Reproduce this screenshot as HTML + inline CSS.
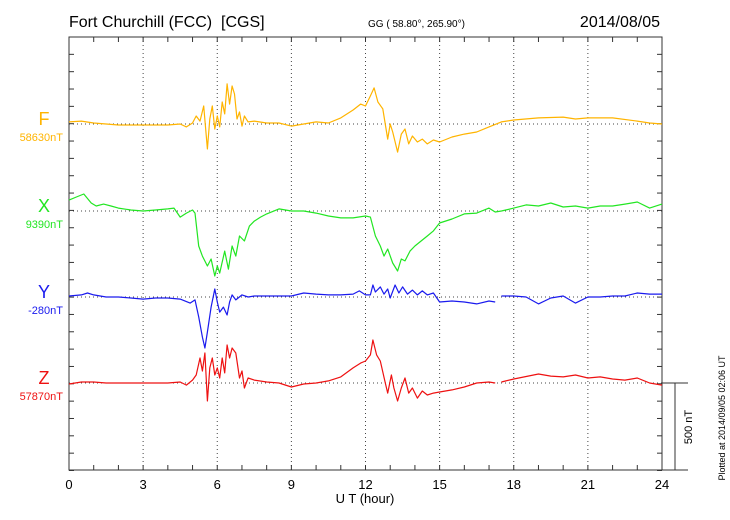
<!DOCTYPE html>
<html><head><meta charset="utf-8"><style>
body{margin:0;background:#fff;}
svg{display:block;font-family:"Liberation Sans",Arial,sans-serif;}
</style></head><body>
<svg id="chart" width="730" height="520" viewBox="0 0 730 520" xmlns="http://www.w3.org/2000/svg">
<text x="69" y="27" font-size="16">Fort Churchill (FCC) &#160;[CGS]</text>
<text x="368" y="27" font-size="10">GG ( 58.80°, 265.90°)</text>
<text x="660" y="27" font-size="16" text-anchor="end">2014/08/05</text>
<text x="365" y="503" font-size="13" text-anchor="middle">U T (hour)</text>
<text transform="translate(725,418) rotate(-90)" font-size="9" text-anchor="middle">Plotted at 2014/09/05 02:06 UT</text>
<text transform="translate(692,427) rotate(-90)" font-size="11" text-anchor="middle">500 nT</text>
<g id="grid"></g><g id="axes"></g><g id="series"></g>
</svg>
<script>
const xTickLabels = [0,3,6,9,12,15,18,21,24];
const seriesNames = ['F','X','Y','Z'];
const seriesBaselines = ['58630nT','9390nT','-280nT','57870nT'];
const seriesColors = ['#ffb400','#22e622','#1a1aee','#ee1111'];

const fTimes = [0,0.5,1,1.5,2,2.5,3,3.5,4,4.5,4.75,5,5.15,5.3,5.45,5.6,5.7,5.8,5.9,6.0,6.1,6.2,6.3,6.4,6.5,6.6,6.7,6.8,6.9,7.0,7.1,7.25,7.5,8,8.5,9,9.5,10,10.5,11,11.5,11.8,12,12.2,12.35,12.5,12.7,12.9,13.0,13.1,13.3,13.45,13.6,13.75,13.9,14.1,14.3,14.5,14.75,15,15.5,16,16.5,17,17.5,18,19,20,20.5,21,22,23,23.5,24];
const fValues = [12,17,6,0,-6,-6,-6,-6,-6,0,-17,6,46,17,104,-144,29,104,-29,46,-17,127,58,231,115,219,173,29,69,-12,46,12,17,6,6,-12,0,12,6,35,81,115,104,162,208,127,87,-87,0,-46,-162,-58,-29,-115,-69,-104,-87,-115,-92,-104,-75,-58,-46,-17,12,23,35,40,29,35,35,17,6,0];

const xTimes = [0,0.3,0.6,0.9,1.1,1.4,1.7,2,2.5,3,3.5,4,4.25,4.5,4.75,5.0,5.1,5.25,5.4,5.6,5.75,5.9,6.0,6.1,6.3,6.45,6.6,6.75,6.9,7.1,7.3,7.5,7.75,8,8.5,9,9.5,10,10.5,11,11.5,12,12.2,12.4,12.6,12.75,12.9,13.1,13.3,13.45,13.6,13.8,14.0,14.25,14.5,14.75,15,15.5,16,16.5,17,17.25,17.5,18,18.5,19,19.5,20,20.5,21,21.5,22,22.5,23,23.5,24];
const xValues = [63,81,98,46,29,40,29,17,6,0,6,12,17,-35,-12,6,-12,-202,-260,-317,-277,-375,-317,-358,-231,-335,-202,-260,-144,-173,-87,-58,-35,-17,12,0,0,-12,-29,-40,-40,-29,-35,-144,-202,-260,-219,-300,-346,-277,-288,-231,-202,-173,-144,-115,-69,-46,-17,-12,17,-6,0,17,35,29,46,23,29,17,29,29,40,52,17,40];

const yTimes = [0,0.5,0.75,1,1.5,2,2.5,3,3.5,4,4.5,4.9,5.1,5.25,5.4,5.5,5.6,5.75,5.9,6.0,6.1,6.25,6.4,6.5,6.6,6.75,7,7.25,7.5,8,8.5,9,9.5,10,10.5,11,11.5,11.75,12,12.2,12.3,12.4,12.6,12.75,12.9,13.0,13.2,13.35,13.5,13.7,13.9,14.1,14.3,14.5,14.75,15,15.5,16,16.5,17,17.25,17.35,17.5,18,18.5,19,19.5,20,20.5,21,21.5,22,22.5,23,23.5,24];
const yValues = [6,12,23,12,0,0,-6,-12,-6,-6,-12,-35,-17,-115,-231,-294,-202,-58,46,-29,-87,-58,-104,-29,12,-17,12,0,6,6,6,6,23,17,12,12,17,35,12,12,69,29,58,17,46,-6,69,23,58,17,40,12,35,12,23,-29,-23,-29,-40,-23,-29,null,6,6,0,-40,-6,6,-35,0,0,6,6,23,17,17];

const zTimes = [0,0.5,1,1.5,2,3,3.5,4,4.5,4.75,5,5.15,5.3,5.4,5.5,5.6,5.7,5.8,5.9,6.0,6.1,6.2,6.3,6.4,6.5,6.6,6.75,6.9,7.0,7.1,7.25,7.5,8,8.5,9,9.5,10,10.5,11,11.5,11.8,12,12.2,12.3,12.45,12.6,12.8,12.9,13.05,13.15,13.3,13.45,13.6,13.75,13.9,14.1,14.3,14.5,14.75,15,15.5,16,16.5,17,17.25,17.35,17.5,18,19,19.5,20,20.5,21,21.5,22,22.5,23,23.5,24];
const zValues = [-6,6,6,0,0,0,0,0,6,-12,17,46,144,69,173,-104,87,144,46,87,29,144,58,219,144,202,173,29,69,-29,29,17,6,0,-23,-6,0,12,35,87,115,127,162,248,162,127,0,-58,46,-29,-104,-29,29,-58,-29,-87,-46,-69,-58,-52,-40,-23,0,6,0,null,6,23,52,40,35,46,29,35,23,17,29,0,-12];

const L=69,R=662,T=37,B=470;
const baseY=[124,211,297,383];
const pxPerNT=86.7/500;
const xs=h=>L+(R-L)*h/24;
const NS='http://www.w3.org/2000/svg';
function mk(tag,attrs,parent){const e=document.createElementNS(NS,tag);for(const k in attrs)e.setAttribute(k,attrs[k]);parent.appendChild(e);return e;}
const grid=document.getElementById('grid'),axes=document.getElementById('axes'),ser=document.getElementById('series');

xTickLabels.forEach(h=>{
  if(h>0&&h<24){const g=mk('line',{x1:xs(h),x2:xs(h),y1:T,y2:B,stroke:'#444','stroke-width':1,'stroke-dasharray':'1,3'},grid);
  
  }
  const t=mk('text',{x:xs(h),y:489,'font-size':13,'text-anchor':'middle'},axes);t.textContent=h;
  
  
});
baseY.forEach(y=>{const g=mk('line',{x1:L,x2:R,y1:y,y2:y,stroke:'#444','stroke-width':1,'stroke-dasharray':'1,3'},grid);
  
  });
for(let h=0;h<=24;h++){
  mk('line',{x1:xs(h),x2:xs(h),y1:T,y2:T+5,stroke:'#333'},axes);
  mk('line',{x1:xs(h),x2:xs(h),y1:B,y2:B-5,stroke:'#333'},axes);
}
for(let y=T;y<=B+1;y+=86.7/5){
  mk('line',{x1:L,x2:L+5,y1:y,y2:y,stroke:'#333'},axes);
  mk('line',{x1:R,x2:R-5,y1:y,y2:y,stroke:'#333'},axes);
}
const frame=mk('rect',{x:L,y:T,width:R-L,height:B-T,fill:'none',stroke:'#333','stroke-width':1},axes);


mk('line',{x1:R,x2:688,y1:383,y2:383,stroke:'#333'},axes);
mk('line',{x1:R,x2:688,y1:B,y2:B,stroke:'#333'},axes);
const sb=mk('line',{x1:675,x2:675,y1:383,y2:B,stroke:'#333'},axes);



const allT=[fTimes,xTimes,yTimes,zTimes],allV=[fValues,xValues,yValues,zValues];
seriesNames.forEach((n,i)=>{
  const lab=mk('text',{x:44,y:baseY[i]+1,'font-size':18,'text-anchor':'middle',fill:seriesColors[i]},axes);lab.textContent=n;
  
  
  const bl=mk('text',{x:63,y:baseY[i]+17,'font-size':11,'text-anchor':'end',fill:seriesColors[i]},axes);bl.textContent=seriesBaselines[i];
  
  
  let d='',pen=false;
  allT[i].forEach((t,j)=>{const v=allV[i][j];if(v===null){pen=false;return;}
    d+=(pen?'L':'M')+xs(t).toFixed(1)+','+(baseY[i]-v*pxPerNT).toFixed(1);pen=true;});
  const p=mk('path',{d:d,fill:'none',stroke:seriesColors[i],'stroke-width':1.2,'stroke-linejoin':'round'},ser);
  
  
});
</script>
</body></html>
